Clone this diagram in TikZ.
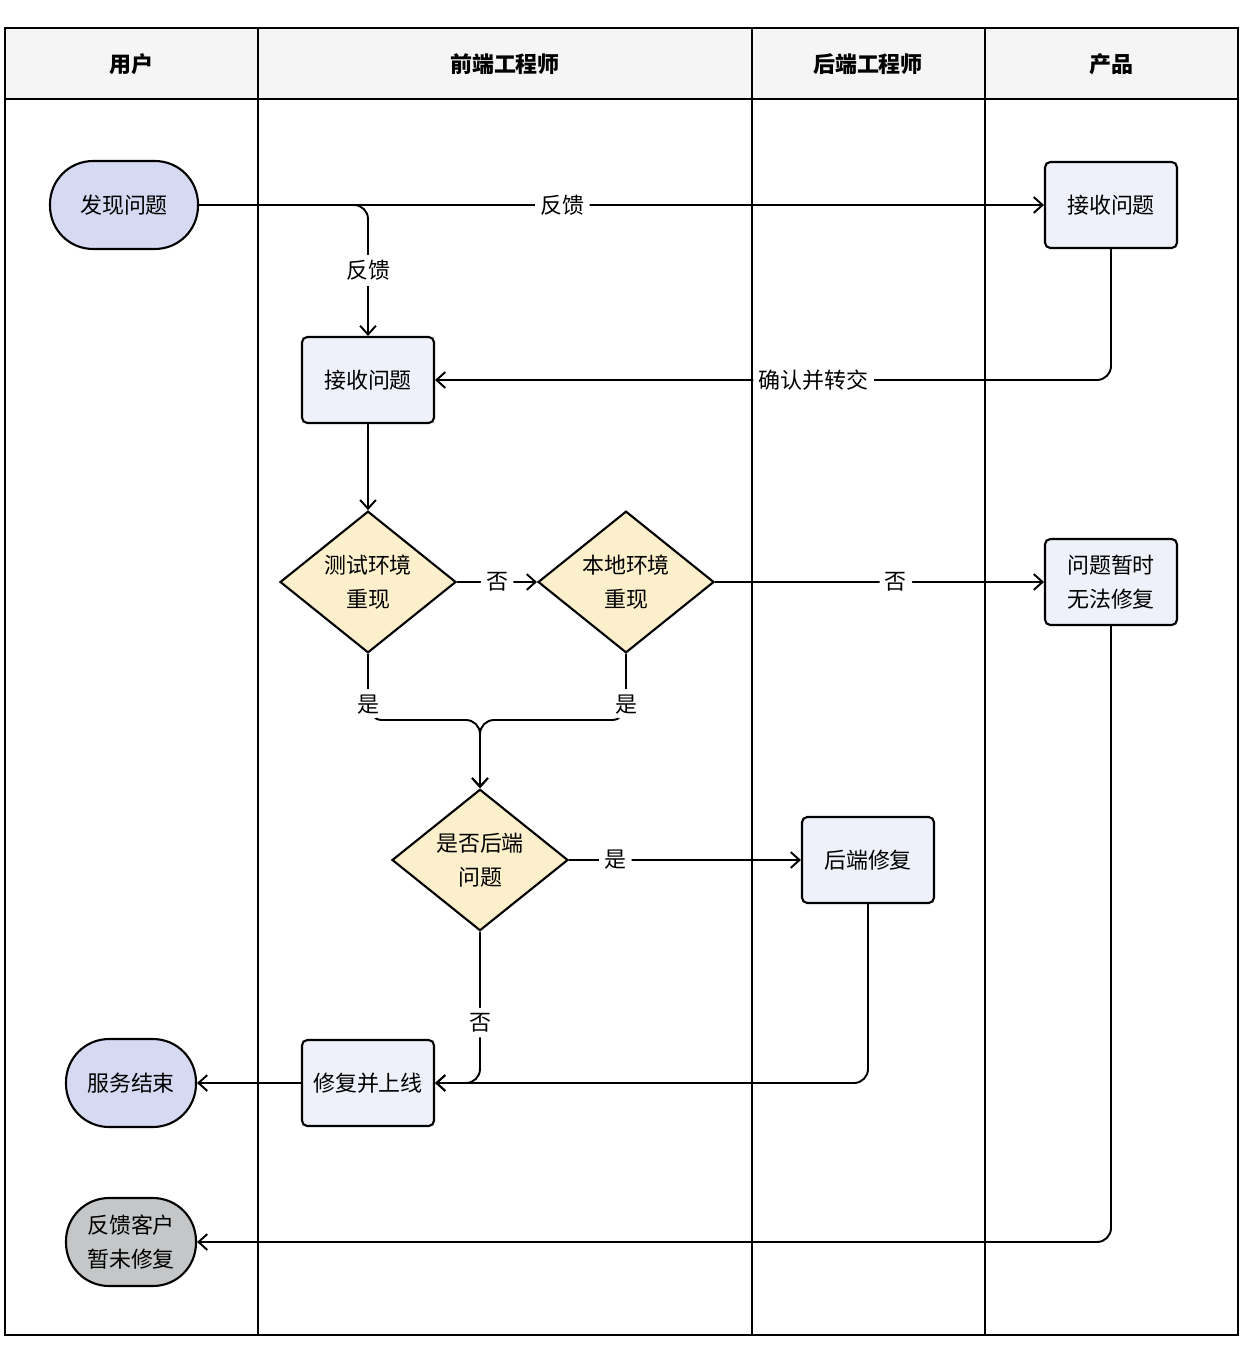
\documentclass[tikz,border=0pt]{standalone}
\usepackage{fontspec}
\setmainfont{Noto Sans CJK SC}
\usetikzlibrary{shapes.geometric, arrows.meta}
\definecolor{headgray}{HTML}{F5F5F5}
\definecolor{termblue}{HTML}{D6D9F2}
\definecolor{boxblue}{HTML}{EEF1FA}
\definecolor{decyellow}{HTML}{FCEFCB}
\definecolor{termgray}{HTML}{C4C6C8}
\tikzset{
  lane/.style={draw, line width=1.2pt},
  head/.style={font=\bfseries\fontsize{12.5}{15}\selectfont},
  term/.style={draw, line width=1.2pt, rounded corners=0.86cm, minimum width=2.96cm, minimum height=1.76cm, align=center, font=\fontsize{12.5}{19}\selectfont},
  proc/.style={draw, line width=1.2pt, rounded corners=3pt, fill=boxblue, minimum width=2.64cm, minimum height=1.72cm, align=center, font=\fontsize{12.5}{19}\selectfont},
  dec/.style={diamond, draw, line width=1.2pt, fill=decyellow, minimum width=3.52cm, minimum height=2.36cm, inner sep=0pt, align=center, font=\fontsize{12.5}{19}\selectfont},
  flow/.style={line width=1.1pt, rounded corners=8pt, -{Straight Barb[length=5pt,width=9pt]}},
  lbl/.style={fill=white, inner sep=3pt, font=\fontsize{12.5}{15}\selectfont}
}
\begin{document}
\begin{tikzpicture}[x=0.02cm, y=-0.02cm]
\useasboundingbox (0,0) rectangle (1250,1354);
% 泳道
\fill[headgray] (5,28) rectangle (1238,99);
\draw[lane] (5,28) rectangle (1238,1335);
\draw[lane] (5,99) -- (1238,99);
\foreach \x in {258,752,985} \draw[lane] (\x,28) -- (\x,1335);
\node[head] (hu) at (131,64) {用户};
\node[head] (hf) at (505,64) {前端工程师};
\node[head] (hb) at (868,64) {后端工程师};
\node[head] (hp) at (1111,64) {产品};

% 节点
\node[term, fill=termblue] (find) at (124,205) {发现问题};
\node[proc] (precv) at (1111,205) {接收问题};
\node[proc] (frecv) at (368,380) {接收问题};
\node[dec] (test) at (368,582) {测试环境\\重现};
\node[dec] (local) at (626,582) {本地环境\\重现};
\node[proc] (nofix) at (1111,582) {问题暂时\\无法修复};
\node[dec] (isback) at (480,860) {是否后端\\问题};
\node[proc] (bfix) at (868,860) {后端修复};
\node[proc] (online) at (368,1083) {修复并上线};
\node[term, fill=termblue, minimum width=2.6cm] (done) at (131,1083) {服务结束};
\node[term, fill=termgray, minimum width=2.6cm] (tell) at (131,1242) {反馈客户\\暂未修复};
\coordinate (merge) at (480,720);

% 连线
\draw[flow] (find.east) -- node[lbl, pos=0.43] {反馈} (precv.west);
\draw[flow] (find.east) -- (368,205) -- node[lbl] {反馈} (frecv.north);
\draw[flow] (precv.south) |- node[lbl, pos=0.72] {确认并转交} (frecv.east);
\draw[flow] (frecv) -- (test.north);
\draw[flow] (test.east) -- node[lbl] {否} (local.west);
\draw[flow] (local.east) -- node[lbl, pos=0.55] {否} (nofix.west);
\draw[flow] (test.south) |- node[lbl, pos=0.38] {是} (merge) -- (isback.north);
\draw[flow] (local.south) |- node[lbl, pos=0.38] {是} (merge) -- (isback.north);
\draw[flow] (isback.east) -- node[lbl, pos=0.2] {是} (bfix.west);
\draw[flow] (isback.south) |- node[lbl, pos=0.3] {否} (online.east);
\draw[flow] (bfix.south) |- (online.east);
\draw[flow] (online.west) -- (done.east);
\draw[flow] (nofix.south) |- (tell.east);
\end{tikzpicture}
\end{document}
